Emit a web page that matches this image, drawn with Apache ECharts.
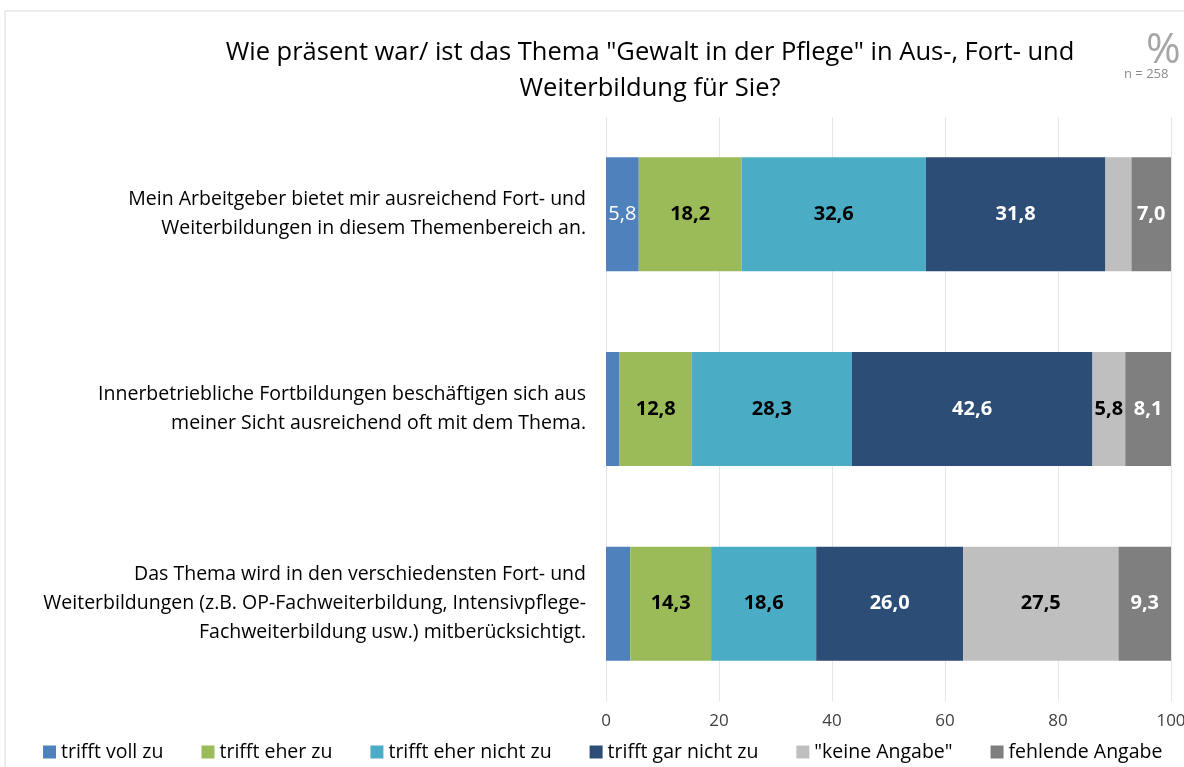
<!DOCTYPE html>
<html><head><meta charset="utf-8">
<script src="https://cdn.jsdelivr.net/npm/echarts@6/dist/echarts.min.js"></script>
<style>html,body{margin:0;padding:0;background:#fff}#c{width:1184px;height:767px}</style>
</head><body><div id="c"></div>
<script>
const categories = [
  "Mein Arbeitgeber bietet mir ausreichend Fort- und\nWeiterbildungen in diesem Themenbereich an.",
  "Innerbetriebliche Fortbildungen beschäftigen sich aus\nmeiner Sicht ausreichend oft mit dem Thema.",
  "Das Thema wird in den verschiedensten Fort- und\nWeiterbildungen (z.B. OP-Fachweiterbildung, Intensivpflege-\nFachweiterbildung usw.) mitberücksichtigt."
];
const seriesNames = ["trifft voll zu","trifft eher zu","trifft eher nicht zu","trifft gar nicht zu","\"keine Angabe\"","fehlende Angabe"];
const trifftVoll = [5.8, 2.4, 4.3];
const trifftEher = [18.2, 12.8, 14.3];
const eherNicht = [32.6, 28.3, 18.6];
const garNicht = [31.8, 42.6, 26.0];
const keineAngabe = [4.6, 5.8, 27.5];
const fehlend = [7.0, 8.1, 9.3];
const xTicks = [0, 20, 40, 60, 80, 100];

const colors = ["#4F81BD","#9BBB59","#4BACC6","#2C4D75","#BFBFBF","#7F7F7F"];
const labelColors = ["#fff","#000","#000","#fff","#000","#fff"];
const allData = [trifftVoll, trifftEher, eherNicht, garNicht, keineAngabe, fehlend];
const hidden = {"0-1":1,"0-2":1,"4-0":1};
const FONT = "'Open Sans', sans-serif";

const series = allData.map((arr, si) => ({
  name: seriesNames[si],
  type: 'bar',
  stack: 'all',
  barWidth: 114,
  itemStyle: {color: colors[si]},
  data: arr.map((v, ci) => ({
    value: v,
    label: {show: !hidden[si + '-' + ci]}
  })),
  label: {
    show: true,
    position: 'inside',
    color: labelColors[si],
    fontFamily: FONT,
    fontSize: 20,
    fontWeight: si === 0 ? 'normal' : 'bold',
    formatter: p => p.value.toFixed(1).replace('.', ',')
  }
}));

const chart = echarts.init(document.getElementById('c'), null, {renderer: 'canvas'});
chart.setOption({
  animation: false,
  backgroundColor: '#fff',
  title: {
    text: 'Wie präsent war/ ist das Thema "Gewalt in der Pflege" in Aus-, Fort- und\nWeiterbildung für Sie?',
    left: 645, top: 30, textAlign: 'center',
    textStyle: {fontFamily: FONT, fontSize: 25.5, fontWeight: 'normal', color: '#000', lineHeight: 36}
  },
  graphic: [
    {type: 'line', shape: {x1: 5, y1: 11, x2: 1184, y2: 11}, style: {stroke: '#d9d9d9', lineWidth: 1}},
    {type: 'line', shape: {x1: 5, y1: 11, x2: 5, y2: 767}, style: {stroke: '#d9d9d9', lineWidth: 1}},
    {type: 'text', left: 1146, top: 30, style: {text: '%', fontFamily: FONT, fontSize: 42, fill: '#a6a6a6'}},
    {type: 'text', left: 1124, top: 68, style: {text: 'n = 258', fontFamily: FONT, fontSize: 13, fill: '#8c8c8c'}}
  ],
  legend: {
    bottom: 0, left: 38,
    itemWidth: 13, itemHeight: 13, itemGap: 38, icon: 'rect',
    textStyle: {fontFamily: FONT, fontSize: 19.5, color: '#000'},
    data: seriesNames
  },
  grid: {left: 606, right: 13, top: 117, bottom: 66, containLabel: false, outerBoundsMode: 'none'},
  xAxis: {
    type: 'value', min: 0, max: 100, interval: 20,
    axisLine: {show: false}, axisTick: {show: false},
    splitLine: {lineStyle: {color: '#e6e6e6'}},
    axisLabel: {fontFamily: FONT, fontSize: 17, color: '#404040', margin: 12,
      formatter: v => xTicks.includes(v) ? String(v) : ''}
  },
  yAxis: {
    type: 'category', inverse: true, data: categories,
    axisLine: {show: false}, axisTick: {show: false},
    axisLabel: {fontFamily: FONT, fontSize: 19.5, color: '#000', align: 'right', margin: 20, lineHeight: 29}
  },
  series: series
});
</script></body></html>
